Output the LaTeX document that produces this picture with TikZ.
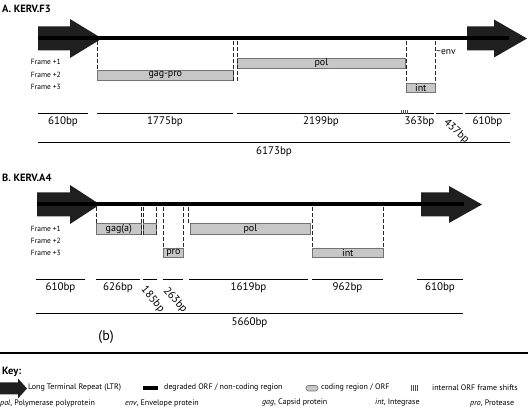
\documentclass[tikz,border=0pt]{standalone}
\usepackage{fontspec}
\setmainfont{PT Sans}
\usetikzlibrary{arrows}

% block arrow for a long terminal repeat: tail start, head start, tip, y, half tail, half head
\newcommand{\ltr}[6]{%
  \fill[black!88] (#1,#4-#5) -- (#2,#4-#5) -- (#2,#4-#6) -- (#3,#4)
    -- (#2,#4+#6) -- (#2,#4+#5) -- (#1,#4+#5) -- cycle;}

\begin{document}
\begin{tikzpicture}[x=1pt,y=-1pt,
        orf/.style={draw=black!55,fill=black!22,line width=0.7pt,inner sep=0pt,
          anchor=north west,font=\fontsize{10}{10}\selectfont},
        vline/.style={dash pattern=on 4pt off 2pt,line width=0.9pt,black!85},
        ruler/.style={line width=0.8pt},
        total/.style={line width=1pt},
        bp/.style={below,inner sep=3pt,font=\fontsize{11}{12}\selectfont},
        rbp/.style={anchor=west,inner sep=0pt,font=\fontsize{11}{12}\selectfont},
        backbone/.style={line width=4pt},
        fshift/.style={black!70,line width=1pt}]
  \tikzstyle{frame}=[anchor=east,inner sep=0pt,font=\fontsize{7.5}{8}\selectfont]
  \tikzstyle{title}=[anchor=west,inner sep=0pt,font=\bfseries\fontsize{10.5}{12}\selectfont]
  \tikzstyle{key}=[anchor=west,inner sep=0pt,font=\fontsize{8}{9}\selectfont]
  \useasboundingbox (0,0) rectangle (528,411);

  % ---- A. KERV.F3
  \node[title] (ta) at (2,9) {A. KERV.F3};
  \ltr{38}{70}{102}{38.5}{12}{19.5}
  \ltr{467}{494}{527}{38.5}{12}{19}
  \draw[backbone] (38,38.5) -- (509,38.5);
  \coordinate (ba) at (0,41);

  \node[frame] (fa1) at (61,62) {Frame +1};
  \node[frame] (fa2) at (61,75) {Frame +2};
  \node[frame] (fa3) at (61,87) {Frame +3};

  \node[orf,minimum width=136pt,minimum height=10pt] (gagpro) at (97,70) {gag-pro};
  \node[orf,minimum width=168pt,minimum height=10pt] (pola) at (237,58) {pol};
  \node[orf,minimum width=29pt,minimum height=9pt] (inta) at (406,83) {int};

  \draw[vline] (gagpro.north west |- ba) -- (gagpro.north west);
  \draw[vline] (gagpro.south east |- ba) -- (gagpro.south east);
  \draw[vline] (pola.north west |- ba) -- ([yshift=-12pt]pola.south west);
  \draw[vline] (inta.north west |- ba) -- (inta.north west);
  \draw[vline] (inta.north east |- ba) -- (inta.north east);
  \node[anchor=west,inner sep=0pt,font=\fontsize{9.5}{10}\selectfont] (env) at (436,52) {\textasciitilde env};

  \draw[ruler] (38,113) -- node[bp] (a610) {610bp} (88,113);
  \draw[ruler] (97,113) -- node[bp] (a1775) {1775bp} (233,113);
  \draw[ruler] (237,113) -- node[bp] (a2199) {2199bp} (405,113);
  \draw[ruler] (405,113) -- node[bp] (a363) {363bp} (434,113);
  \draw[ruler] (436,113) -- (463,113);
  \node[rbp,rotate=-42] (a437) at (445,121) {437bp};
  \draw[ruler] (465,113) -- node[bp] (a610r) {610bp} (510,113);
  \foreach \x in {401,403,405,407}
    \draw[fshift] (\x,110) -- (\x,114);

  \draw[total] (38,143) -- node[bp] (a6173) {6173bp} (510,143);

  % ---- B. KERV.A4
  \node[title] (tb) at (2,178) {B. KERV.A4};
  \ltr{37}{70}{100}{204.5}{12}{19.5}
  \ltr{421}{449}{482}{204.5}{12}{18.5}
  \draw[backbone] (37,204.5) -- (464,204.5);
  \coordinate (bb) at (0,207);

  \node[frame] (fb1) at (61,229) {Frame +1};
  \node[frame] (fb2) at (61,241) {Frame +2};
  \node[frame] (fb3) at (61,253) {Frame +3};

  \node[orf,minimum width=45pt,minimum height=11pt] (gaga) at (96,223) {gag(a)};
  \node[orf,minimum width=13pt,minimum height=11pt] (gagb) at (143,223) {};
  \node[orf,minimum width=20pt,minimum height=9pt] (pro) at (163,248) {pro};
  \node[orf,minimum width=120pt,minimum height=11pt] (polb) at (190,223) {pol};
  \node[orf,minimum width=71pt,minimum height=9pt] (intb) at (312,248) {int};

  \draw[vline] (gaga.north west |- bb) -- (gaga.north west);
  \draw[vline] (gaga.south east |- bb) -- (gaga.south east);
  \draw[vline] (gagb.south west |- bb) -- (gagb.south west);
  \draw[vline] (gagb.south east |- bb) -- (gagb.south east);
  \draw[vline] (pro.north west |- bb) -- (pro.north west);
  \draw[vline] (pro.north east |- bb) -- (pro.north east);
  \draw[vline] ([xshift=-2pt]polb.north west |- bb) -- ([xshift=-2pt]polb.north west);
  \draw[vline] (intb.north west |- bb) -- (intb.north west);
  \draw[vline] (intb.north east |- bb) -- (intb.north east);

  \draw[ruler] (36,279) -- node[bp] (b610) {610bp} (85,279);
  \draw[ruler] (96,279) -- node[bp] (b626) {626bp} (140,279);
  \draw[ruler] (143,279) -- (157,279);
  \node[rbp,rotate=-50] (b185) at (143,288) {185bp};
  \draw[ruler] (163,279) -- (183,279);
  \node[rbp,rotate=-48] (b263) at (165,289) {263bp};
  \draw[ruler] (189,279) -- node[bp] (b1619) {1619bp} (308,279);
  \draw[ruler] (312,279) -- node[bp] (b962) {962bp} (383,279);
  \draw[ruler] (417,279) -- node[bp] (b610r) {610bp} (463,279);

  \draw[total] (36,314) -- node[bp] (b5660) {5660bp} (463,314);
  \node[font=\fontsize{14}{16}\selectfont] (lb) at (106,337) {(b)};

  % ---- key
  \draw[line width=1.3pt] (0,353) -- (528,353);
  \node[title] (tk) at (2,372) {Key:};
  \ltr{0}{18}{27}{388.5}{6}{10}
  \node[key] (kltr) at (28,388) {Long Terminal Repeat (LTR)};
  \draw[line width=3.5pt] (143,388) -- (158,388);
  \node[key] (knc) at (164,388) {degraded ORF / non-coding region};
  \draw[draw=black!55,fill=black!22,line width=0.6pt,rounded corners=2.5pt] (306,385.5) rectangle (318,391);
  \node[key] (korf) at (321,388) {coding region / ORF};
  \foreach \x in {411,413,415,417}
    \draw[fshift] (\x,385) -- (\x,391);
  \node[key] (kfs) at (432,388) {internal ORF frame shifts};

  \node[key] (kpol) at (0,403) {\textit{pol}, Polymerase polyprotein};
  \node[key] (kenv) at (125,403) {\textit{env}, Envelope protein};
  \node[key] (kgag) at (262,403) {\textit{gag}, Capsid protein};
  \node[key] (kint) at (375,403) {\textit{int}, Integrase};
  \node[key] (kpro) at (470,403) {\textit{pro}, Protease};
\end{tikzpicture}
\end{document}
